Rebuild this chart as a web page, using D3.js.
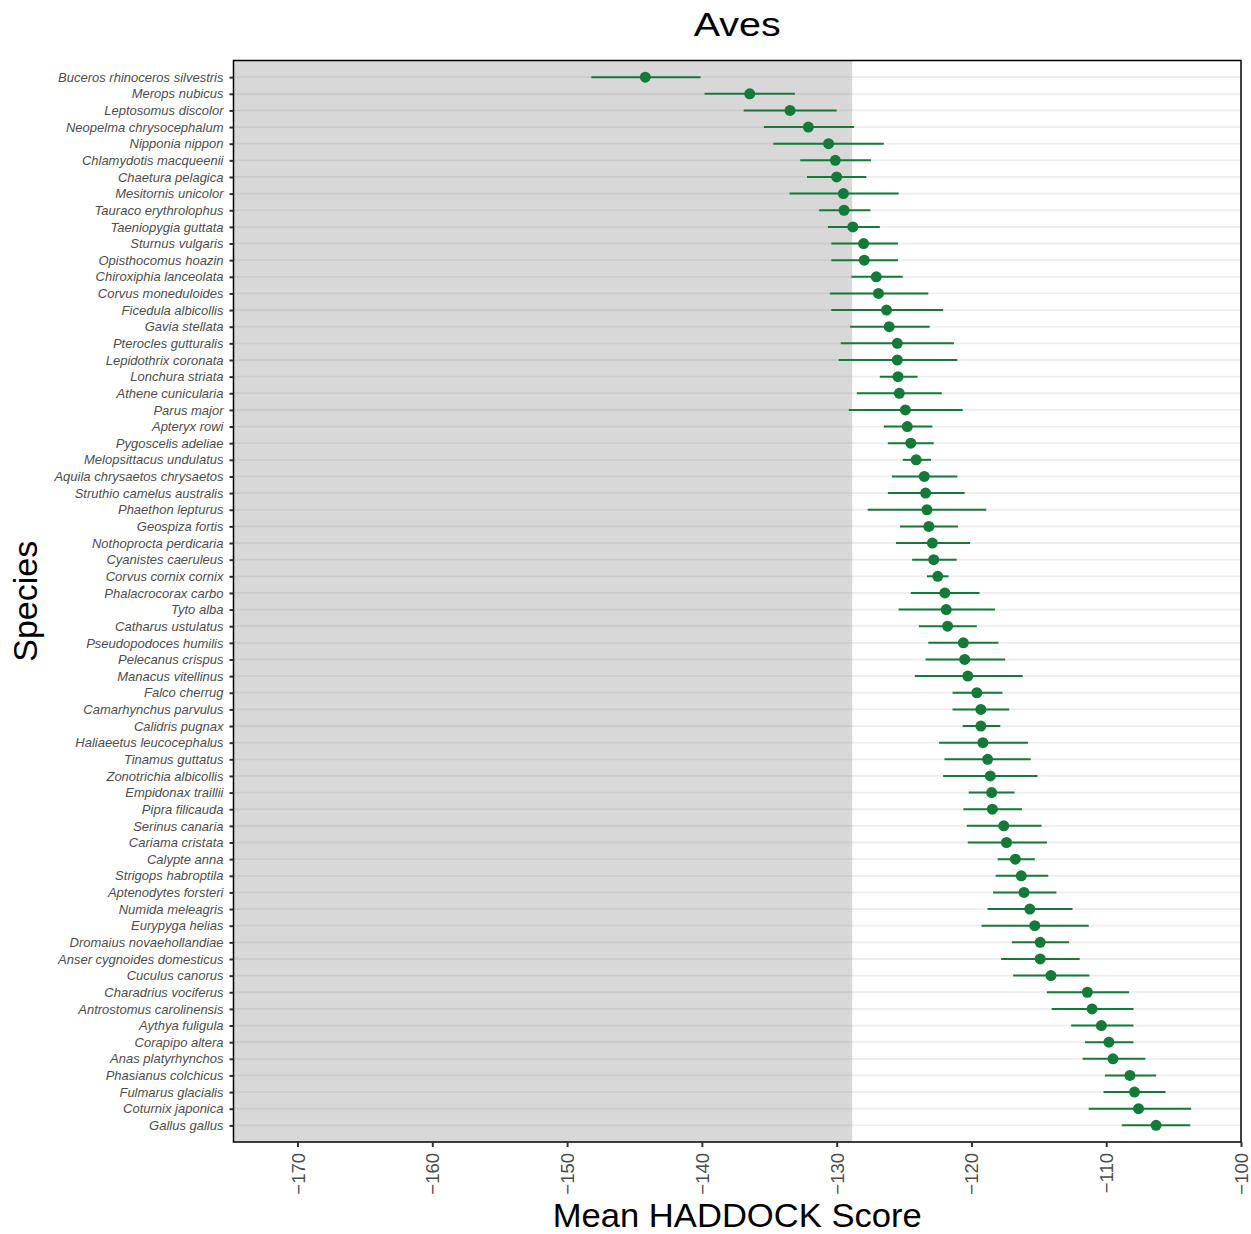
<!DOCTYPE html>
<html>
<head>
<meta charset="utf-8">
<script src="https://cdn.jsdelivr.net/npm/d3@7"></script>
<style>
  body { margin: 0; background: #fff; }
  svg { display: block; }
</style>
</head>
<body>
<svg id="chart" width="1251" height="1234"></svg>
<script>
const species = [
  "Buceros rhinoceros silvestris","Merops nubicus","Leptosomus discolor","Neopelma chrysocephalum",
  "Nipponia nippon","Chlamydotis macqueenii","Chaetura pelagica","Mesitornis unicolor",
  "Tauraco erythrolophus","Taeniopygia guttata","Sturnus vulgaris","Opisthocomus hoazin",
  "Chiroxiphia lanceolata","Corvus moneduloides","Ficedula albicollis","Gavia stellata",
  "Pterocles gutturalis","Lepidothrix coronata","Lonchura striata","Athene cunicularia",
  "Parus major","Apteryx rowi","Pygoscelis adeliae","Melopsittacus undulatus",
  "Aquila chrysaetos chrysaetos","Struthio camelus australis","Phaethon lepturus","Geospiza fortis",
  "Nothoprocta perdicaria","Cyanistes caeruleus","Corvus cornix cornix","Phalacrocorax carbo",
  "Tyto alba","Catharus ustulatus","Pseudopodoces humilis","Pelecanus crispus",
  "Manacus vitellinus","Falco cherrug","Camarhynchus parvulus","Calidris pugnax",
  "Haliaeetus leucocephalus","Tinamus guttatus","Zonotrichia albicollis","Empidonax traillii",
  "Pipra filicauda","Serinus canaria","Cariama cristata","Calypte anna",
  "Strigops habroptila","Aptenodytes forsteri","Numida meleagris","Eurypyga helias",
  "Dromaius novaehollandiae","Anser cygnoides domesticus","Cuculus canorus","Charadrius vociferus",
  "Antrostomus carolinensis","Aythya fuligula","Corapipo altera","Anas platyrhynchos",
  "Phasianus colchicus","Fulmarus glacialis","Coturnix japonica","Gallus gallus"
];
const meanScore = [
  -144.2,-136.45,-133.46,-132.1,-130.6,-130.1,-130.0,-129.5,
  -129.45,-128.8,-128.0,-127.95,-127.06,-126.9,-126.3,-126.1,
  -125.5,-125.5,-125.45,-125.35,-124.9,-124.76,-124.5,-124.1,
  -123.5,-123.4,-123.3,-123.16,-122.9,-122.8,-122.5,-121.97,
  -121.87,-121.77,-120.6,-120.5,-120.27,-119.6,-119.3,-119.3,
  -119.15,-118.8,-118.6,-118.5,-118.45,-117.6,-117.4,-116.74,
  -116.3,-116.1,-115.67,-115.3,-114.9,-114.9,-114.1,-111.4,
  -111.05,-110.36,-109.8,-109.5,-108.24,-107.9,-107.6,-106.3
];
const lowerScore = [
  -148.2,-139.8,-136.9,-135.4,-134.7,-132.7,-132.2,-133.5,
  -131.3,-130.65,-130.4,-130.4,-128.9,-130.5,-130.4,-129.0,
  -129.7,-129.85,-126.8,-128.5,-129.1,-126.5,-126.2,-125.1,
  -125.9,-126.2,-127.7,-125.3,-125.6,-124.4,-123.3,-124.5,
  -125.4,-123.9,-123.2,-123.4,-124.2,-121.4,-121.4,-120.65,
  -122.4,-122.0,-122.1,-120.2,-120.6,-120.35,-120.27,-118.05,
  -118.2,-118.4,-118.8,-119.25,-117.0,-117.8,-116.9,-114.4,
  -114.05,-112.6,-111.57,-111.75,-110.1,-110.2,-111.3,-108.85
];
const upperScore = [
  -140.1,-133.1,-130.0,-128.7,-126.5,-127.45,-127.8,-125.4,
  -127.5,-126.8,-125.45,-125.45,-125.1,-123.2,-122.1,-123.1,
  -121.3,-121.05,-124.0,-122.2,-120.65,-122.9,-122.8,-123.0,
  -121.05,-120.5,-118.9,-121.0,-120.1,-121.1,-121.7,-119.4,
  -118.25,-119.6,-118.0,-117.5,-116.2,-117.7,-117.2,-117.86,
  -115.8,-115.6,-115.1,-116.8,-116.25,-114.8,-114.4,-115.3,
  -114.3,-113.7,-112.5,-111.3,-112.76,-111.97,-111.25,-108.3,
  -107.98,-107.98,-107.98,-107.1,-106.3,-105.6,-103.7,-103.76
];
const xTicks = [-170,-160,-150,-140,-130,-120,-110,-100];
const shadeThreshold = -128.85;
const xDomain = [-174.75, -100];

const svg = d3.select("#chart");
const m = {left: 233.5, right: 1241, top: 60.5, bottom: 1142};
const FONT = "'Liberation Sans', Arial, sans-serif";

const x = d3.scaleLinear().domain(xDomain).range([m.left, m.right]);
const y = d3.scalePoint().domain(species).range([m.top, m.bottom]).padding(1);

const green = "#137a37";

// grid lines
svg.append("g").selectAll("line").data(species).join("line")
  .attr("x1", m.left).attr("x2", m.right)
  .attr("y1", d => y(d)).attr("y2", d => y(d))
  .attr("stroke", "#ededed").attr("stroke-width", 1.8);

// shaded region
svg.append("rect")
  .attr("x", m.left).attr("y", m.top)
  .attr("width", x(shadeThreshold) - m.left).attr("height", m.bottom - m.top)
  .attr("fill", "#7f7f7f").attr("fill-opacity", 0.3);

// error bars
const rows = species.map((s, i) => ({s, mean: meanScore[i], lo: lowerScore[i], hi: upperScore[i]}));
svg.append("g").selectAll("line").data(rows).join("line")
  .attr("x1", d => x(d.lo)).attr("x2", d => x(d.hi))
  .attr("y1", d => y(d.s)).attr("y2", d => y(d.s))
  .attr("stroke", green).attr("stroke-width", 2);

svg.append("g").selectAll("circle").data(rows).join("circle")
  .attr("cx", d => x(d.mean)).attr("cy", d => y(d.s)).attr("r", 5.5)
  .attr("fill", green);

// panel border
svg.append("rect")
  .attr("x", m.left).attr("y", m.top)
  .attr("width", m.right - m.left).attr("height", m.bottom - m.top)
  .attr("fill", "none").attr("stroke", "#000").attr("stroke-width", 1.5);

// y axis
const yAxis = svg.append("g").attr("transform", `translate(${m.left},0)`)
  .call(d3.axisLeft(y).tickSize(4).tickPadding(6));
yAxis.select(".domain").remove();
yAxis.selectAll(".tick line").attr("stroke", "#333").attr("stroke-width", 2);
yAxis.selectAll(".tick text")
  .attr("font-family", FONT)
  .attr("font-style", "italic").attr("font-size", "13px").attr("fill", "#4d4d4d");

// x axis
const xAxis = svg.append("g").attr("transform", `translate(0,${m.bottom})`)
  .call(d3.axisBottom(x).tickValues(xTicks).tickSize(5).tickFormat(d => String(d).replace("-", "\u2212")));
xAxis.select(".domain").remove();
xAxis.selectAll(".tick line").attr("stroke", "#333").attr("stroke-width", 2);
xAxis.selectAll(".tick text")
  .attr("font-family", FONT)
  .attr("font-size", "18.5px").attr("fill", "#4d4d4d")
  .attr("transform", "rotate(-90)")
  .attr("x", -11).attr("y", 0).attr("dy", "0.35em")
  .attr("text-anchor", "end");

// titles
svg.append("text").attr("x", (m.left + m.right) / 2).attr("y", 36)
  .attr("text-anchor", "middle")
  .attr("font-family", FONT).attr("font-size", "34px")
  .attr("textLength", 87).attr("lengthAdjust", "spacingAndGlyphs")
  .attr("fill", "#000").text("Aves");

svg.append("text").attr("x", (m.left + m.right) / 2).attr("y", 1227)
  .attr("text-anchor", "middle")
  .attr("font-family", FONT).attr("font-size", "33px")
  .attr("textLength", 369).attr("lengthAdjust", "spacingAndGlyphs")
  .attr("fill", "#000").text("Mean HADDOCK Score");

svg.append("text")
  .attr("transform", `translate(37,${(m.top + m.bottom) / 2}) rotate(-90)`)
  .attr("text-anchor", "middle")
  .attr("font-family", FONT).attr("font-size", "34px")
  .attr("fill", "#000").text("Species");
</script>
</body>
</html>
